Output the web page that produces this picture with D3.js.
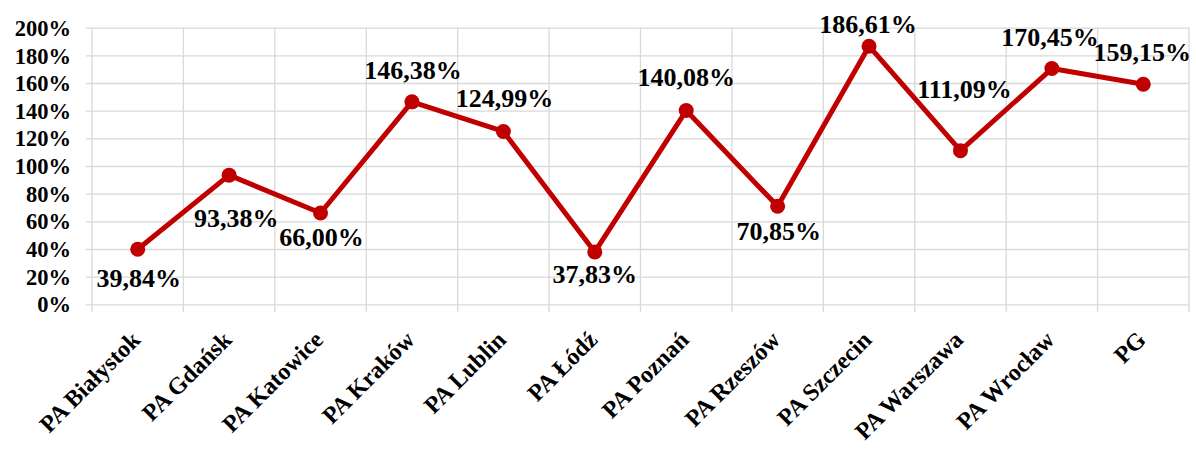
<!DOCTYPE html>
<html>
<head>
<meta charset="utf-8">
<script src="https://cdn.jsdelivr.net/npm/d3@7"></script>
<style>
  body { margin: 0; background: #fff; }
  text { font-family: 'Liberation Serif', 'Times New Roman', serif; font-weight: bold; fill: #000; }
</style>
</head>
<body>
<div class="line-chart-container"></div>
<script>
// 類別 (X軸)
const categories = ['PA Białystok', 'PA Gdańsk', 'PA Katowice', 'PA Kraków', 'PA Lublin', 'PA Łódź',
    'PA Poznań', 'PA Rzeszów', 'PA Szczecin', 'PA Warszawa', 'PA Wrocław', 'PG'];
// 數值 (百分比)
const values = [39.84, 93.38, 66.00, 146.38, 124.99, 37.83, 140.08, 70.85, 186.61, 111.09, 170.45, 159.15];
// Y軸刻度
const yTicks = [0, 20, 40, 60, 80, 100, 120, 140, 160, 180, 200];

// 資料標籤的位置 (相對於點)
const labelOffset = [
    [1, 29], [7, 43], [1, 24], [1, -31], [1, -33], [0, 23],
    [0, -33], [1, 25], [-1, -22], [4, -61], [-2, -31], [-1, -32]
];

const fmtPct = v => v.toFixed(2).replace('.', ',') + '%';

function setupCanvas() {
    const svg_width = 1196;
    const svg_height = 450;
    const chart_margin = { top: 27.7, bottom: 145.7, left: 92, right: 7 };
    const chart_width = svg_width - (chart_margin.left + chart_margin.right);
    const chart_height = svg_height - (chart_margin.top + chart_margin.bottom);

    const this_svg = d3.select('.line-chart-container')
        .append('svg')
        .attr('width', svg_width).attr('height', svg_height)
        .append('g')
        .attr('transform', `translate(${chart_margin.left},${chart_margin.top})`);

    // X: band 分配
    const xScale = d3.scaleBand()
        .domain(categories)
        .range([0, chart_width]);
    const xMid = d => xScale(d) + xScale.bandwidth() / 2;

    // Y
    const yScale = d3.scaleLinear()
        .domain([0, 200])
        .range([chart_height, 0]);

    // 格線 - 水平
    const yAxis = d3.axisLeft(yScale)
        .tickValues(yTicks)
        .tickFormat(d => d + '%')
        .tickSizeInner(-chart_width)
        .tickSizeOuter(0)
        .tickPadding(21);
    const yG = this_svg.append('g').attr('class', 'y axis').call(yAxis);
    yG.select('.domain').remove();
    yG.selectAll('.tick line').attr('stroke', '#d9d9d9').attr('stroke-width', 1.3)
        .attr('x1', -6);
    yG.selectAll('.tick text').style('font-size', '22.5px').attr('dy', '0.34em');

    // 格線 - 垂直 (band 邊界)
    const bounds = categories.map(c => xScale(c)).concat([chart_width]);
    this_svg.append('g').attr('class', 'v-grid')
        .selectAll('line')
        .data(bounds).enter()
        .append('line')
        .attr('x1', d => d).attr('x2', d => d)
        .attr('y1', 0).attr('y2', chart_height + 8)
        .attr('stroke', '#d9d9d9').attr('stroke-width', 1.3);

    // X 標籤 (旋轉 -45)
    this_svg.append('g').attr('class', 'x axis')
        .selectAll('text')
        .data(categories).enter()
        .append('text')
        .attr('transform', d => `translate(${xMid(d) + 4},${chart_height + 37}) rotate(-45)`)
        .attr('text-anchor', 'end')
        .style('font-size', '24px')
        .text(d => d);

    // 折線
    const lineGen = d3.line()
        .x((d, i) => xMid(categories[i]))
        .y(d => yScale(d));
    this_svg.append('path')
        .attr('d', lineGen(values))
        .style('fill', 'none')
        .style('stroke', '#c00000')
        .style('stroke-width', 5)
        .style('stroke-linejoin', 'round');

    // 點
    this_svg.selectAll('.dot')
        .data(values).enter()
        .append('circle')
        .attr('class', 'dot')
        .attr('cx', (d, i) => xMid(categories[i]))
        .attr('cy', d => yScale(d))
        .attr('r', 7.5)
        .style('fill', '#c00000');

    // 資料標籤
    this_svg.selectAll('.data-label')
        .data(values).enter()
        .append('text')
        .attr('class', 'data-label')
        .attr('x', (d, i) => xMid(categories[i]) + labelOffset[i][0])
        .attr('y', (d, i) => yScale(d) + labelOffset[i][1])
        .attr('text-anchor', 'middle')
        .attr('dominant-baseline', 'central')
        .style('font-size', '26px')
        .text(d => fmtPct(d));
}

setupCanvas();
</script>
</body>
</html>
